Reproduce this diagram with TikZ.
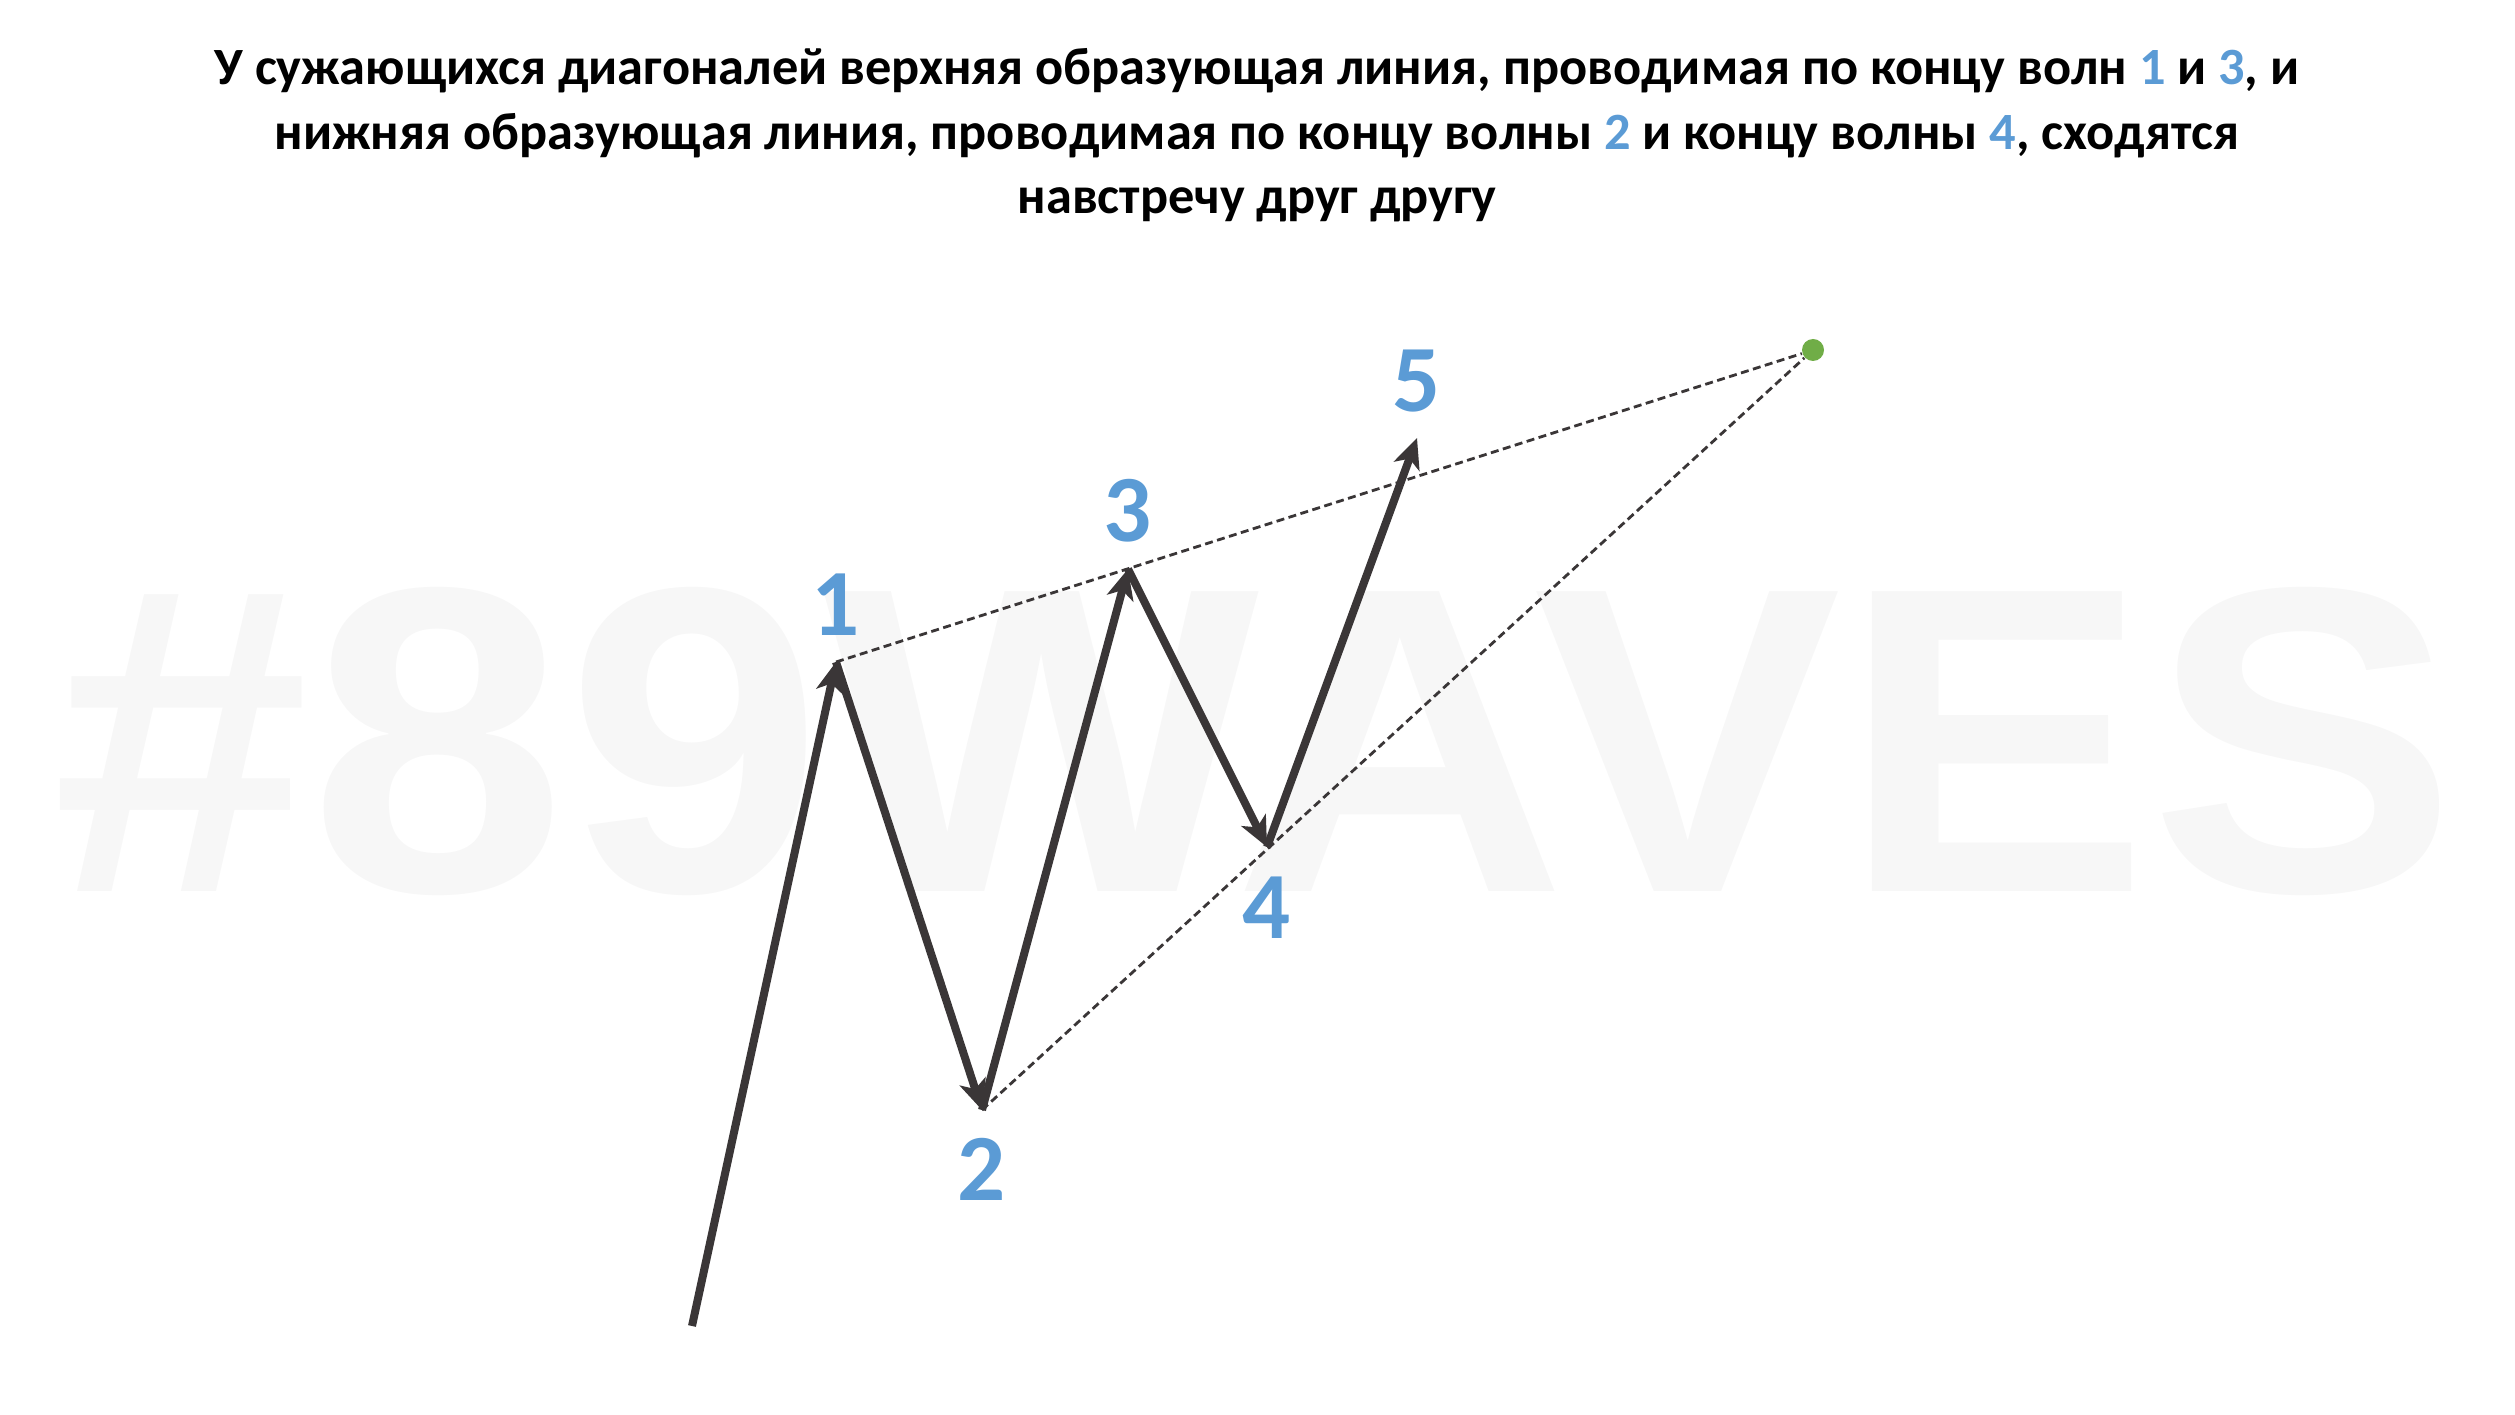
\documentclass[tikz,border=0pt]{standalone}
\usepackage{fontspec}
\setmainfont{Carlito}
\newfontfamily\markfont{Liberation Sans}
\usepackage{xcolor}
\usetikzlibrary{arrows.meta}

\definecolor{waveblue}{HTML}{5B9BD5}
\definecolor{wavegray}{HTML}{3A3637}
\definecolor{wavegreen}{HTML}{70AD47}
\definecolor{markgray}{HTML}{F7F7F7}

\begin{document}
\begin{tikzpicture}[
		wave/.style = {draw = wavegray, line width = 0.08cm, -{Stealth[length = 0.3cm, width = 0.27cm, inset = 0.08cm]}},
		guide/.style = {draw = wavegray, line width = 0.028cm, dash pattern = on 0.08cm off 0.045cm},
		wavenum/.style = {text = waveblue, inner sep = 0pt, font = \fontsize{27}{30}\selectfont\bfseries}
	]
			\useasboundingbox (0,0) rectangle (25.15,14.14);

			% background mark
			\node [text = markgray, inner sep = 0pt, xscale = 1.06, font = \markfont\bfseries\fontsize{124}{130}\selectfont] (mark) at (12.55,6.73) {\#89WAVES};

			% title
			\node [anchor = north, align = center, inner sep = 0pt, font = \fontsize{14.9}{18.3}\selectfont\bfseries] (title) at (12.57,13.66)
				{У сужающихся диагоналей верхняя образующая линия, проводимая по концу волн \textcolor{waveblue}{1} и \textcolor{waveblue}{3}, и\\
				нижняя образующая линия, проводимая по концу волны \textcolor{waveblue}{2} и концу волны \textcolor{waveblue}{4}, сходятся\\
				навстречу друг другу};

			% wave ends
			\coordinate (w0) at (6.92,0.88);
			\coordinate (w1) at (8.36,7.52);
			\coordinate (w2) at (9.82,3.04);
			\coordinate (w3) at (11.28,8.45);
			\coordinate (w4) at (12.67,5.67);
			\coordinate (w5) at (14.17,9.76);

			\node [circle, fill = wavegreen, minimum size = 0.22cm, inner sep = 0pt] (apex) at (18.13,10.64) {};

			\begin{scope}[guide]
				\draw (w1) -- (apex);
				\draw (w2) -- (apex);
			\end{scope}

			\begin{scope}[wave]
				\draw (w0) -- (w1);
				\draw (w1) -- (w2);
				\draw (w2) -- (w3);
				\draw (w3) -- (w4);
				\draw (w4) -- (w5);
			\end{scope}

			\begin{scope}[wavenum]
				\node [above = 0.26cm] (n1) at (w1) {1};
				\node [below = 0.28cm] (n2) at (w2) {2};
				\node [above = 0.26cm] (n3) at (w3) {3};
				\node [below = 0.29cm] (n4) at (w4) {4};
				\node [above = 0.25cm] (n5) at (w5) {5};
			\end{scope}
		\end{tikzpicture}
\end{document}
